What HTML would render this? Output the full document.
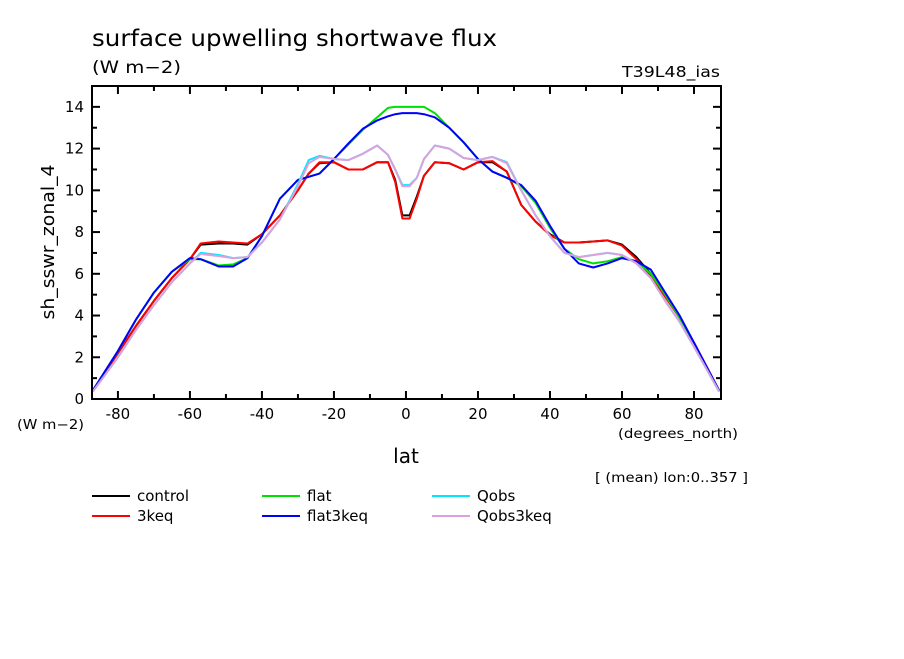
<!DOCTYPE html>
<html><head><meta charset="utf-8"><style>
body{margin:0;background:#fff;}
svg text{font-family:"DejaVu Sans","Liberation Sans",sans-serif;fill:#000;}
</style></head><body>
<svg id="chart" width="904" height="654" viewBox="0 0 904 654" xmlns="http://www.w3.org/2000/svg">
<rect width="904" height="654" fill="#fff"/>
<text x="92" y="46" font-size="23" textLength="405" lengthAdjust="spacingAndGlyphs">surface upwelling shortwave flux</text>
<text x="92" y="73" font-size="17" textLength="89" lengthAdjust="spacingAndGlyphs">(W m−2)</text>
<text x="622" y="77" font-size="15" textLength="98" lengthAdjust="spacingAndGlyphs">T39L48_ias</text>
<text x="17" y="429" font-size="13" textLength="67" lengthAdjust="spacingAndGlyphs">(W m−2)</text>
<text x="618" y="438" font-size="13" textLength="120" lengthAdjust="spacingAndGlyphs">(degrees_north)</text>
<text x="406" y="463" font-size="20" text-anchor="middle">lat</text>
<text transform="translate(54,242) rotate(-90)" font-size="18" text-anchor="middle" textLength="155" lengthAdjust="spacingAndGlyphs">sh_sswr_zonal_4</text>
<text x="595" y="482" font-size="13" textLength="153" lengthAdjust="spacingAndGlyphs">[ (mean) lon:0..357 ]</text>
<g id="plot"></g>
<g id="legend"></g>
</svg>
<script>
const lats=[-87,-80,-75,-70,-65,-60,-57,-52,-48,-44,-40,-35,-30,-27,-24,-20,-16,-12,-8,-5,-3,-1,1,3,5,8,12,16,20,24,28,32,36,40,44,48,52,56,60,64,68,72,76,80,87];
const controlVals=[0.4,2.2,3.5,4.7,5.8,6.7,7.4,7.45,7.45,7.4,7.9,8.8,10.0,10.8,11.3,11.35,11.0,11.0,11.35,11.35,10.5,8.8,8.8,9.7,10.7,11.35,11.3,11.0,11.35,11.35,10.9,9.3,8.5,7.9,7.5,7.5,7.55,7.6,7.4,6.8,6.0,5.0,3.9,2.7,0.4];
const keq3Vals=[0.4,2.2,3.5,4.7,5.8,6.7,7.45,7.55,7.5,7.45,7.9,8.8,10.0,10.8,11.35,11.35,11.0,11.0,11.35,11.35,10.4,8.65,8.65,9.6,10.7,11.35,11.3,11.0,11.35,11.4,10.9,9.3,8.5,7.85,7.5,7.5,7.55,7.6,7.35,6.7,5.9,4.9,3.9,2.7,0.4];
const flatVals=[0.4,2.3,3.8,5.1,6.1,6.7,6.7,6.4,6.45,6.75,7.8,9.6,10.5,10.65,10.8,11.5,12.2,12.9,13.5,13.95,14.0,14.0,14.0,14.0,14.0,13.7,13.0,12.3,11.5,10.9,10.6,10.2,9.4,8.2,7.2,6.7,6.5,6.6,6.8,6.6,6.0,5.0,3.9,2.6,0.4];
const flat3keqVals=[0.4,2.3,3.8,5.1,6.1,6.75,6.7,6.35,6.35,6.75,7.8,9.6,10.5,10.65,10.8,11.5,12.25,12.95,13.35,13.55,13.65,13.7,13.7,13.7,13.65,13.5,13.0,12.3,11.5,10.9,10.6,10.25,9.5,8.3,7.2,6.5,6.3,6.5,6.75,6.6,6.2,5.1,4.0,2.7,0.4];
const qobsVals=[0.35,2.0,3.3,4.5,5.6,6.5,7.0,6.9,6.75,6.8,7.5,8.6,10.3,11.45,11.65,11.5,11.45,11.75,12.15,11.7,11.0,10.25,10.25,10.6,11.5,12.15,12.0,11.55,11.45,11.6,11.35,10.0,8.8,7.8,7.0,6.8,6.9,7.0,6.9,6.5,5.8,4.7,3.7,2.5,0.35];
const qobs3keqVals=[0.35,2.0,3.3,4.5,5.6,6.5,6.95,6.85,6.75,6.8,7.5,8.6,10.2,11.3,11.6,11.5,11.45,11.75,12.15,11.7,11.0,10.2,10.2,10.6,11.5,12.15,12.0,11.55,11.45,11.6,11.3,10.0,8.8,7.8,7.0,6.8,6.9,7.0,6.9,6.5,5.8,4.7,3.7,2.5,0.35];
const seriesNames=["control","3keq","flat","flat3keq","Qobs","Qobs3keq"];
const seriesColors=["#000000","#ff0000","#00e000","#0000ff","#00e8ff","#dda0dd"];
const seriesVals=[controlVals,keq3Vals,flatVals,flat3keqVals,qobsVals,qobs3keqVals];
const xTicks=[-80,-60,-40,-20,0,20,40,60,80];
const yTicks=[0,2,4,6,8,10,12,14];

const L=92,R=721,T=86,B=399;
const xMin=-87.2,xMax=87.5,yMin=0,yMax=15;
const xs=v=>L+(v-xMin)/(xMax-xMin)*(R-L);
const ys=v=>B-(v-yMin)/(yMax-yMin)*(B-T);
const NS="http://www.w3.org/2000/svg";
const plot=document.getElementById('plot');
function mk(tag,attrs,parent){const e=document.createElementNS(NS,tag);for(const k in attrs)e.setAttribute(k,attrs[k]);parent.appendChild(e);return e;}

seriesVals.forEach((vals,i)=>{
  const d=vals.map((v,j)=>(j?'L':'M')+xs(lats[j]).toFixed(1)+','+ys(v).toFixed(1)).join(' ');
  const p=mk('path',{d:d,fill:'none',stroke:seriesColors[i],'stroke-width':2,'stroke-linejoin':'round'},plot);
  
  
});
const fr=mk('rect',{x:L,y:T,width:R-L,height:B-T,fill:'none',stroke:'#000','stroke-width':2},plot);


for(let v=-80;v<=80;v+=10){
  const maj=xTicks.includes(v);const len=maj?8:5;
  mk('line',{x1:xs(v),x2:xs(v),y1:B,y2:B-len,stroke:'#000','stroke-width':2},plot);
  mk('line',{x1:xs(v),x2:xs(v),y1:T,y2:T+len,stroke:'#000','stroke-width':2},plot);
}
xTicks.forEach(v=>{
  const t=mk('text',{x:xs(v),y:B+20,'font-size':15,'text-anchor':'middle'},plot);
  t.textContent=v;
  
  
});
for(let v=0;v<=15;v+=1){
  const maj=v%2===0;const len=maj?8:5;
  mk('line',{x1:L,x2:L+len,y1:ys(v),y2:ys(v),stroke:'#000','stroke-width':2},plot);
  mk('line',{x1:R,x2:R-len,y1:ys(v),y2:ys(v),stroke:'#000','stroke-width':2},plot);
}
yTicks.forEach(v=>{
  const t=mk('text',{x:L-8,y:ys(v)+5,'font-size':15,'text-anchor':'end'},plot);
  t.textContent=v;
  
  
});
const leg=document.getElementById('legend');
const order=[[0,92,496],[1,92,516],[2,262,496],[3,262,516],[4,432,496],[5,432,516]];
order.forEach(([i,x,y])=>{
  const g=mk('g',{},leg);
  
  
  mk('line',{x1:x,x2:x+38,y1:y,y2:y,stroke:seriesColors[i],'stroke-width':2},g);
  const t=mk('text',{x:x+45,y:y+5,'font-size':15},g);
  t.textContent=seriesNames[i];
});
</script>
</body></html>
